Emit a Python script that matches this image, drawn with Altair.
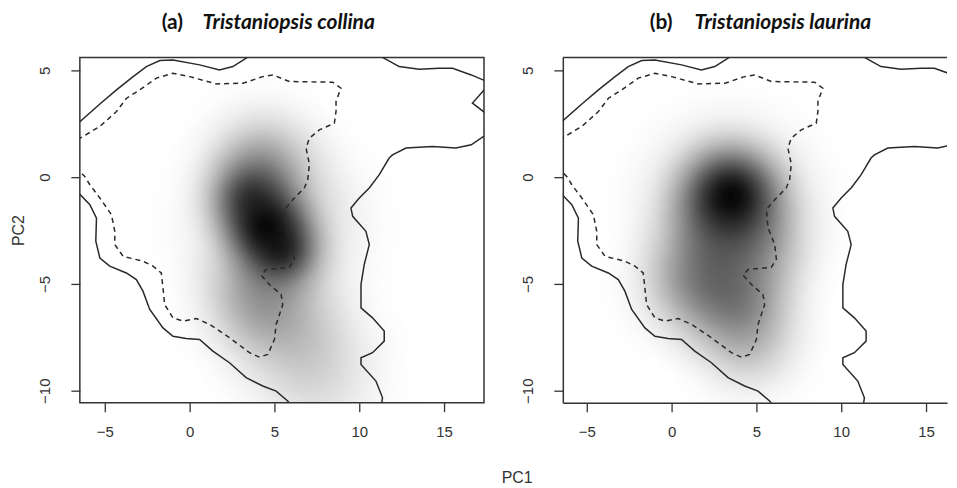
import altair as alt
import pandas as pd
import numpy as np

# ---------------- axis settings ----------------
X_DOMAIN_A = [-6.47, 17.35]
X_DOMAIN_B = [-6.41, 16.24]
Y_DOMAIN = [-10.56, 5.6]
W_A, W_B, H = 405, 385, 346
x_ticks = [-5, 0, 5, 10, 15]
y_ticks = [-10, -5, 0, 5]
panel_tags = ["(a)", "(b)"]
species = ["Tristaniopsis collina", "Tristaniopsis laurina"]

# ---------------- contour lines (same in both panels) ----------------
solid_topleft_x = [-6.6, -5.29, -4.31, -3.33, -2.55, -1.76, -0.98, 0.59, 1.76, 2.55, 3.6]
solid_topleft_y = [2.5, 3.42, 4.08, 4.70, 5.17, 5.45, 5.48, 5.25, 5.01, 5.17, 5.7]

solid_topright_x = [11.15, 12.35, 13.53, 14.7, 15.5, 16.6, 17.29, 17.5]
solid_topright_y = [5.7, 5.17, 5.05, 5.09, 5.09, 4.78, 4.55, 4.5]

solid_tip_x = [17.5, 16.67, 17.5]
solid_tip_y = [4.2, 3.46, 2.95]

solid_right_x = [17.5, 16.6, 15.69, 14.31, 12.75, 11.96, 11.76, 11.18, 10.6, 10.0, 9.51, 9.61,
                 10.39, 10.59, 10.29, 10.1, 10.1, 10.78, 11.47, 11.47, 10.78, 10.1, 10.1,
                 10.98, 11.37, 11.3]
solid_right_y = [2.0, 1.51, 1.36, 1.43, 1.36, 1.04, 0.89, 0.11, -0.5, -0.98, -1.45, -1.84,
                 -2.54, -3.16, -4.1, -5.03, -6.12, -6.59, -7.21, -7.68, -8.22, -8.46, -8.77,
                 -9.55, -10.33, -10.7]

solid_bottomleft_x = [-6.6, -5.88, -5.49, -5.53, -5.29, -4.71, -3.73, -3.14, -2.75, -2.35, -1.57,
                      -0.98, -0.2, 0.59, 1.37, 2.35, 3.33, 4.31, 5.1, 5.78, 6.0]
solid_bottomleft_y = [-0.7, -1.29, -1.92, -3.0, -3.79, -4.17, -4.49, -4.80, -5.34, -6.2, -7.06,
                      -7.45, -7.56, -7.60, -8.15, -8.69, -9.39, -9.78, -10.02, -10.48, -10.7]

dashed_x = [-6.6, -5.29, -4.31, -3.72, -2.94, -1.96, -0.98, 0.0, 1.57, 3.14, 4.31, 4.9, 5.88,
            8.43, 8.92, 8.63, 8.63, 8.53, 7.65, 7.06, 6.86, 7.06, 6.96, 6.76, 6.08, 5.59, 5.69,
            6.08, 6.18, 5.88, 4.51, 4.22, 4.71, 5.39, 5.49, 5.1, 5.0, 4.61, 4.12, 3.53, 2.35,
            1.18, 0.39, -0.39, -0.98, -1.47, -1.57, -1.67, -2.16, -2.75, -3.92, -4.41, -4.41,
            -4.61, -5.29, -5.88, -6.18, -6.6]
dashed_y = [1.75, 2.37, 3.07, 3.69, 4.08, 4.63, 4.86, 4.7, 4.36, 4.39, 4.7, 4.78, 4.47,
            4.44, 4.16, 3.54, 3.07, 2.52, 2.21, 1.82, 1.36, 0.6, -0.13, -0.51, -1.06, -1.53, -2.38,
            -3.16, -3.85, -4.22, -4.33, -4.6, -5.03, -5.5, -5.97, -6.9, -7.6, -8.3, -8.43, -8.22, -7.52,
            -6.9, -6.62, -6.74, -6.59, -5.97, -5.19, -4.49, -4.17, -3.94, -3.71, -3.16, -2.54,
            -1.76, -0.98, -0.36, 0.03, 0.35]

# ---------------- occurrence density kernels (centre, spread, weight) ----------------
a_kx = [3.6, 4.5, 5.4, 4.3, 5.0, 4.4, 6.6, 7.6, 3.4]
a_ky = [-1.0, -2.3, -3.4, 0.6, -2.3, -6.0, -7.6, -9.6, -4.8]
a_ks = [1.15, 1.05, 1.05, 1.5, 2.1, 1.6, 1.8, 1.8, 1.3]
a_kw = [0.65, 0.9, 0.75, 0.3, 0.3, 0.3, 0.15, 0.1, 0.1]

b_kx = [3.5, 3.4, 2.3, 4.0, 4.6, 0.8, 5.4, 2.6]
b_ky = [-0.9, -1.3, -4.7, -6.0, -8.0, -5.0, -3.2, -2.8]
b_ks = [1.3, 2.0, 1.6, 1.6, 1.4, 1.5, 1.4, 1.5]
b_kw = [0.95, 0.45, 0.33, 0.38, 0.15, 0.15, 0.2, 0.2]

# ---------------- build tables ----------------
def lines_df():
    segs = [
        ("s1", solid_topleft_x, solid_topleft_y, "solid"),
        ("s2", solid_topright_x, solid_topright_y, "solid"),
        ("s3", solid_tip_x, solid_tip_y, "solid"),
        ("s4", solid_right_x, solid_right_y, "solid"),
        ("s5", solid_bottomleft_x, solid_bottomleft_y, "solid"),
        ("d1", dashed_x, dashed_y, "dashed"),
    ]
    rows = []
    for name, xs, ys, kind in segs:
        for i, (xv, yv) in enumerate(zip(xs, ys)):
            rows.append({"x": xv, "y": yv, "seg": name, "ord": i, "kind": kind})
    return pd.DataFrame(rows)

LINES = lines_df()

def kernel_df(kx, ky, ks, kw, xdom, width):
    px_x = width / (xdom[1] - xdom[0])
    px_y = H / (Y_DOMAIN[1] - Y_DOMAIN[0])
    rows = []
    for cx, cy, s, w in zip(kx, ky, ks, kw):
        ry = 3 * s
        rx = ry * px_y / px_x
        rows.append({"x0": cx - rx, "x1": cx + rx, "y0": cy - ry, "y1": cy + ry, "w": w})
    return pd.DataFrame(rows)

ts = np.linspace(0, 1, 11)
e = np.exp(-4.5)
stops = [alt.GradientStop(offset=float(t),
                          color=f"rgba(0,0,0,{max(0.0, (np.exp(-4.5*t*t)-e)/(1-e)):.4f})")
         for t in ts]
grad = alt.RadialGradient(gradient="radial", stops=stops,
                          x1=0.5, y1=0.5, r1=0, x2=0.5, y2=0.5, r2=0.5)

LINE_COLOR = "#2a2a2a"
LABEL_FONT = "Liberation Sans"


def panel(idx, kx, ky, ks, kw, xdom, width, show_title):
    xs = alt.Scale(domain=xdom, nice=False, zero=False)
    ys = alt.Scale(domain=Y_DOMAIN, nice=False, zero=False)
    xaxis = alt.Axis(values=x_ticks, tickSize=9, tickWidth=1.3, tickColor="#333",
                     labelPadding=13, labelFontSize=15, labelFont=LABEL_FONT,
                     labelColor="#333", grid=False, domain=(idx == 1),
                     domainColor="#333", domainWidth=1.5, title=None)
    yaxis_kwargs = dict(values=y_ticks, tickSize=9, tickWidth=1.3, tickColor="#333",
                        labelPadding=18, labelFontSize=15, labelFont=LABEL_FONT,
                        labelColor="#333", labelAngle=270, labelAlign="center",
                        labelBaseline="bottom", grid=False, domain=(idx == 1),
                        domainColor="#333", domainWidth=1.5)
    if show_title:
        yaxis = alt.Axis(title="PC2", titleFont=LABEL_FONT, titleFontSize=16,
                         titleFontWeight="normal", titleColor="#333",
                         titleX=-61, titleY=H / 2, titleAngle=270,
                         titleBaseline="middle", titleAlign="center", **yaxis_kwargs)
    else:
        yaxis = alt.Axis(title=None, **yaxis_kwargs)

    kd = kernel_df(kx, ky, ks, kw, xdom, width)
    dens = alt.Chart(kd).mark_rect(fill=grad, clip=True).encode(
        x=alt.X("x0:Q", scale=xs, axis=xaxis),
        x2="x1:Q",
        y=alt.Y("y0:Q", scale=ys, axis=yaxis),
        y2="y1:Q",
        opacity=alt.Opacity("w:Q", scale=alt.Scale(domain=[0, 1], range=[0, 1]), legend=None),
    )
    solid = alt.Chart(LINES[LINES.kind == "solid"]).mark_line(
        clip=True, color=LINE_COLOR, strokeWidth=1.5).encode(
        x=alt.X("x:Q", scale=xs), y=alt.Y("y:Q", scale=ys),
        detail="seg:N", order="ord:Q")
    dashed = alt.Chart(LINES[LINES.kind == "dashed"]).mark_line(
        clip=True, color=LINE_COLOR, strokeWidth=1.5, strokeDash=[5, 4]).encode(
        x=alt.X("x:Q", scale=xs), y=alt.Y("y:Q", scale=ys),
        detail="seg:N", order="ord:Q")

    tag_x = [82, 87][idx]
    sp_x = [123, 132][idx]
    tdf = pd.DataFrame({"tag": [panel_tags[idx]], "sp": [species[idx]]})
    tag = alt.Chart(tdf).mark_text(font="Lato", fontSize=21, fontWeight="bold",
                                   align="left", baseline="alphabetic", color="#111").encode(
        x=alt.value(tag_x), y=alt.value(-28), text="tag:N")
    sp = alt.Chart(tdf).mark_text(font="Lato", fontSize=21, fontWeight="bold",
                                  fontStyle="italic", align="left", baseline="alphabetic",
                                  color="#111").encode(
        x=alt.value(sp_x), y=alt.value(-28), text="sp:N")

    layers = [dens, solid, dashed, tag, sp]
    if idx == 1:
        top = alt.Chart(tdf).mark_rule(color="#333", strokeWidth=1.5).encode(
            x=alt.value(0), x2=alt.value(width), y=alt.value(0))
        layers.append(top)
        view = alt.ViewBackground(stroke="transparent")
    else:
        view = alt.ViewBackground(stroke="#333", strokeWidth=1.5)
    return alt.layer(*layers).properties(width=width, height=H, view=view)


pa = panel(0, a_kx, a_ky, a_ks, a_kw, X_DOMAIN_A, W_A, True)
pb = panel(1, b_kx, b_ky, b_ks, b_kw, X_DOMAIN_B, W_B, False)

chart = alt.hconcat(pa, pb, spacing=35).properties(
    padding={"left": 2, "top": 3, "right": 0, "bottom": 0},
    title=alt.TitleParams("PC1", orient="bottom", anchor="middle", dx=38, offset=30,
                          font=LABEL_FONT, fontSize=16, fontWeight="normal", color="#333"),
).configure(background="white")

chart.save("out.html", embed_options={"renderer": "svg", "actions": False})
